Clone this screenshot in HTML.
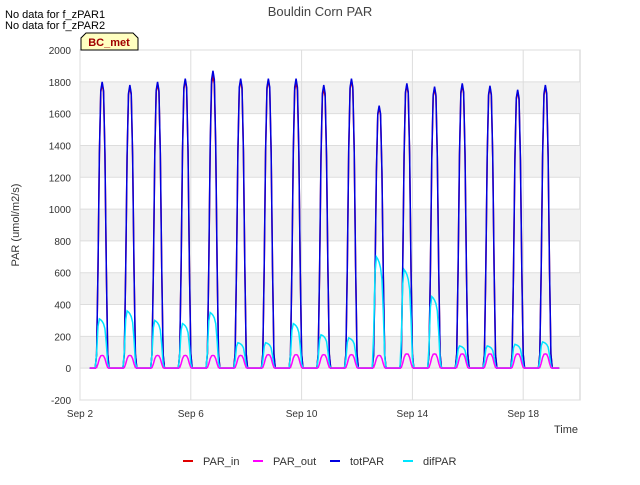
<!DOCTYPE html>
<html><head><meta charset="utf-8"><style>
body{margin:0;background:#fff;font-family:"Liberation Sans",sans-serif}
svg text{font-family:"Liberation Sans",sans-serif}
</style></head><body>
<svg width="640" height="480" id="c">
<rect x="0" y="0" width="640" height="480" fill="#fff"/>
<text x="5" y="18" font-size="11">No data for f_zPAR1</text>
<text x="5" y="29" font-size="11">No data for f_zPAR2</text>
<text x="320" y="16" font-size="13" fill="#444" text-anchor="middle">Bouldin Corn PAR</text>
<g id="plot"></g>
<text x="19" y="225" font-size="11" fill="#333" text-anchor="middle" transform="rotate(-90 19 225)">PAR (umol/m2/s)</text>
<text x="578" y="433" font-size="11" fill="#333" text-anchor="end">Time</text>
<g>
<path d="M81,50 L81,38 L86,33 L133,33 L138,38 L138,50 Z" fill="#ffffc0" stroke="#000"/>
<text x="109" y="46" font-size="11" font-weight="bold" fill="#a00000" text-anchor="middle">BC_met</text>
</g>
<g id="legend"></g>
</svg>
<script>
const yTicks=[-200,0,200,400,600,800,1000,1200,1400,1600,1800,2000];
const xTickLabels=["Sep 2","Sep 6","Sep 10","Sep 14","Sep 18"];
const xTickDays=[2,6,10,14,18];
const days=[2,3,4,5,6,7,8,9,10,11,12,13,14,15,16,17,18];
const totPeaks=[1800,1780,1800,1820,1870,1820,1820,1820,1780,1820,1650,1790,1770,1790,1775,1750,1780];
const inPeaks=[1790,1770,1790,1810,1840,1810,1810,1800,1760,1810,1640,1780,1760,1780,1765,1740,1770];
const outPeaks=[80,80,80,80,80,80,85,85,85,85,80,90,90,90,90,90,90];
const difPeaks=[310,360,300,280,350,160,160,280,210,190,700,620,450,140,140,150,165];
const sunShape=[0,0.05,0.35,0.75,0.97,1,0.97,0.75,0.35,0.05,0];
const difShape=[0,0.3,0.85,1,0.98,0.95,0.9,0.8,0.5,0.1,0];
const L=80,R=580,T=50,B=400;
const ys=v=>B-(v+200)/2200*(B-T);
const xs=d=>80+(d-2)*27.7;
const ns="http://www.w3.org/2000/svg";
const plot=document.getElementById('plot');
function mk(tag,attrs,parent){const e=document.createElementNS(ns,tag);for(const k in attrs)e.setAttribute(k,attrs[k]);(parent||plot).appendChild(e);return e;}
mk('rect',{x:L,y:T,width:R-L,height:B-T,fill:'#fff',stroke:'#ccc'});
for(let i=0;i<yTicks.length-1;i++){
  const v=yTicks[i];
  if(v>=0 && (v/200)%2===0){const b=mk('rect',{x:L,y:ys(v+200),width:R-L,height:ys(v)-ys(v+200),fill:'#f2f2f2'});
  }
}
yTicks.forEach(v=>{
  const g=mk('line',{x1:L,x2:R,y1:ys(v),y2:ys(v),stroke:'#ddd'});
  
  const t=mk('text',{x:L-9,y:ys(v)+4,'font-size':10,fill:'#333','text-anchor':'end'});t.textContent=v;
  
});
xTickDays.forEach((d,i)=>{
  const g=mk('line',{x1:xs(d),x2:xs(d),y1:T,y2:B,stroke:'#ddd'});
  
  const t=mk('text',{x:xs(d),y:B+17,'font-size':10,fill:'#333','text-anchor':'middle'});t.textContent=xTickLabels[i];
  
});
function series(peaks,shape,color,name,w){
  let pts=[[xs(2.35),ys(0)]];
  days.forEach((d,i)=>{
    shape.forEach((s,j)=>{const f=0.55+j*0.5/(shape.length-1);pts.push([xs(d+f),ys(peaks[i]*s)]);});
  });
  pts.push([xs(19.3),ys(0)]);
  const p=mk('polyline',{points:pts.map(p=>p.join(',')).join(' '),fill:'none',stroke:color,'stroke-width':w});
  
}
series(inPeaks,sunShape,'#e00000','series-par-in',1.5);
series(totPeaks,sunShape,'#0000e0','series-totpar',1.5);
series(difPeaks,difShape,'#00e5ff','series-difpar',1.5);
series(outPeaks,sunShape,'#ff00ff','series-par-out',1.5);
const lg=document.getElementById('legend');
[["PAR_in","#e00000",183],["PAR_out","#ff00ff",253],["totPAR","#0000e0",330],["difPAR","#00e5ff",403]].forEach(([n,c,x])=>{
  const e=mk('g',{},lg);
  mk('line',{x1:x,x2:x+10,y1:461,y2:461,stroke:c,'stroke-width':2},e);
  const t=mk('text',{x:x+20,y:465,'font-size':11,fill:'#333'},e);t.textContent=n;
});
</script>
</body></html>
